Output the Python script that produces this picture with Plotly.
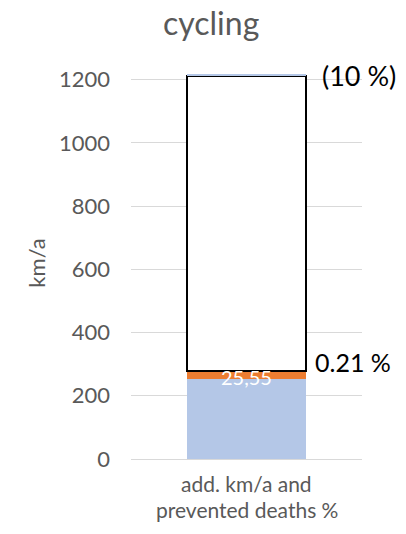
import plotly.graph_objects as go

# Data
categories = ["add. km/a and<br>prevented deaths %"]
base_km = [252.0]          # existing km/a (light blue)
added_km = [25.55]         # additional km/a (orange)
range_km = [934.0]         # upper range (outlined box)
top_band_km = [4.0]        # thin cap on top of the range
added_label = ["25,55"]
pct_low = "0.21 %"
pct_high = "(10 %)"
y_ticks = [0, 200, 400, 600, 800, 1000, 1200]

FONT = "Lato, 'Open Sans', sans-serif"
GREY = "#595959"
BAR_W = 0.515

fig = go.Figure()
fig.add_trace(go.Bar(x=categories, y=base_km, marker=dict(color="#B4C7E7", line=dict(width=0)),
                     width=BAR_W, hoverinfo="skip"))
fig.add_trace(go.Bar(x=categories, y=added_km, marker=dict(color="#ED7D31", line=dict(width=0)),
                     width=BAR_W, hoverinfo="skip"))
fig.add_trace(go.Bar(x=categories, y=range_km, marker=dict(color="white", line=dict(color="black", width=2)),
                     width=BAR_W, hoverinfo="skip"))
fig.add_trace(go.Bar(x=categories, y=top_band_km, marker=dict(color="#B4C7E7", line=dict(width=0)),
                     width=BAR_W, hoverinfo="skip"))

low_top = base_km[0] + added_km[0]
high_top = low_top + range_km[0] + top_band_km[0]

annotations = [
    dict(x=categories[0], y=base_km[0] + added_km[0] / 2 - 5, xref="x", yref="y",
         text=added_label[0], showarrow=False, font=dict(family=FONT, size=20, color="white")),
    dict(x=BAR_W / 2, y=low_top + 30, xref="x", yref="y", xanchor="left", yanchor="middle",
         xshift=7, text=pct_low, showarrow=False, font=dict(family=FONT, size=25, color="black")),
    dict(x=BAR_W / 2, y=high_top - 4, xref="x", yref="y", xanchor="left", yanchor="middle",
         xshift=14, text=pct_high, showarrow=False, font=dict(family=FONT, size=27, color="black")),
]

# Category label, one line per annotation for tighter line spacing
for i, line in enumerate(categories[0].split("<br>")):
    annotations.append(dict(x=categories[0], xref="x", y=0, yref="paper", yanchor="middle",
                            yshift=-24 - 26 * i, text=line, showarrow=False,
                            font=dict(family=FONT, size=21, color=GREY)))

fig.update_layout(
    barmode="stack",
    width=406, height=534,
    margin=dict(l=131, r=44, t=67, b=75),
    paper_bgcolor="white", plot_bgcolor="white",
    showlegend=False,
    title=dict(text="cycling", x=0.52, xanchor="center", y=0.955, yanchor="middle",
               font=dict(family=FONT, size=32, color=GREY)),
    font=dict(family=FONT, color=GREY),
    annotations=annotations,
)
fig.update_xaxes(range=[-0.5, 0.5], showline=False, showgrid=False, ticks="", showticklabels=False)
fig.update_yaxes(range=[0, 1240], tickvals=y_ticks, showgrid=True, gridcolor="#D9D9D9", gridwidth=1,
                 zeroline=True, zerolinecolor="#D9D9D9", zerolinewidth=1, ticks="", ticklen=0,
                 ticklabelstandoff=20,
                 tickfont=dict(family=FONT, size=22, color=GREY),
                 title=dict(text="km/a", font=dict(family=FONT, size=22, color=GREY), standoff=7))

fig.write_html("out.html")
